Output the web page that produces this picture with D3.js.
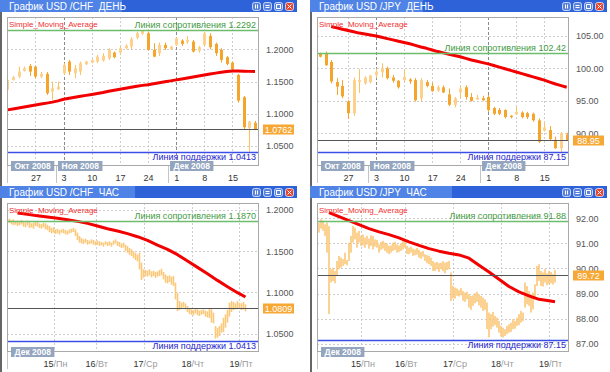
<!DOCTYPE html>
<html>
<head>
<meta charset="utf-8">
<script src="https://cdn.jsdelivr.net/npm/d3@7"></script>
<style>
  html, body { margin: 0; padding: 0; background: #fff; }
  svg { display: block; font-family: "Liberation Sans", Arial, sans-serif; }
</style>
</head>
<body>
<svg id="chart" width="610" height="372"></svg>
<script>
// ---- titles and levels (CHF day, JPY day, CHF hour, JPY hour)
const titles = ["График USD /CHF  ДЕНЬ", "График USD /JPY  ДЕНЬ", "График USD /CHF  ЧАС", "График USD /JPY  ЧАС"];
const resistance = [1.2292, 102.42, 1.1870, 91.88];
const support = [1.0413, 87.15, 1.0413, 87.15];
const lastPrice = [1.0762, 88.95, 1.0809, 89.72];

// ---- daily axis (20 Oct - 19 Dec 2008)
const dayTickIdx = [5, 10, 15, 20, 25, 30, 35, 40];
const dayTickLabels = ["27", "3", "10", "17", "24", "1", "8", "15"];
const dayMonthIdx = [null, 10, 30];
const dayMonthLabels = ["Окт 2008", "Ноя 2008", "Дек 2008"];

// ---- hourly axis (15 - 19 Dec 2008)
const hourDayNum = ["15", "16", "17", "18", "19"];
const hourDayName = ["/Пн", "/Вт", "/Ср", "/Чт", "/Пт"];
const chfHourTickIdx = [23, 44, 68, 92, 116];
const jpyHourTickIdx = [21, 43, 67, 91, 115];
const hourMonthLabels = ["Дек 2008"];

// ---- y ticks
const chfDayTicks = [1.05, 1.10, 1.15, 1.20];
const jpyDayTicks = [90, 95, 100, 105];
const chfHourTicks = [1.05, 1.10, 1.15, 1.20];
const jpyHourTicks = [87, 88, 89, 90, 91, 92];

// ---- USD/CHF daily candles
const chfDayOpen = [1.1370,1.1525,1.1576,1.1664,1.1742,1.1731,1.1576,1.1618,1.1343,1.1380,
  1.1628,1.1809,1.1628,1.1654,1.1768,1.1793,1.1809,1.1824,1.1860,1.1949,
  1.1949,1.2016,1.2041,1.2180,1.2240,1.2248,1.1990,1.1938,1.2067,1.2000,
  1.2067,1.2134,1.2114,1.2119,1.1979,1.2067,1.2207,1.2083,1.1990,1.1876,
  1.1793,1.1602,1.1256,1.0780,1.0860];
const chfDayHigh = [1.1550,1.1586,1.1731,1.1731,1.1773,1.1742,1.1650,1.1648,1.1499,1.1499,
  1.1783,1.1835,1.1757,1.1809,1.1820,1.1845,1.1912,1.1938,1.2016,1.1964,
  1.2041,1.2078,1.2186,1.2270,1.2292,1.2274,1.2093,1.2103,1.2103,1.2052,
  1.2186,1.2155,1.2207,1.2145,1.2052,1.2269,1.2248,1.2103,1.2016,1.1897,
  1.1809,1.1618,1.1276,1.0890,1.0890];
const chfDayLow = [1.1344,1.1514,1.1550,1.1654,1.1586,1.1550,1.1550,1.1292,1.1214,1.1369,
  1.1602,1.1602,1.1550,1.1602,1.1757,1.1783,1.1783,1.1809,1.1835,1.1860,
  1.1928,1.2000,1.1990,1.2155,1.2225,1.1979,1.1876,1.1897,1.1990,1.1990,
  1.2052,1.2052,1.2083,1.1949,1.1949,1.2052,1.2000,1.1897,1.1793,1.1752,
  1.1654,1.1173,1.0760,1.0413,1.0745];
const chfDayClose = [1.1524,1.1566,1.1654,1.1705,1.1654,1.1576,1.1617,1.1318,1.1395,1.1421,
  1.1757,1.1654,1.1705,1.1783,1.1809,1.1835,1.1886,1.1897,1.1990,1.1876,
  1.2016,1.2057,1.2155,1.2250,1.2285,1.1990,1.1886,1.2067,1.2016,1.2041,
  1.2170,1.2083,1.2145,1.1964,1.2031,1.2248,1.2031,1.1938,1.1835,1.1773,
  1.1690,1.1204,1.0791,1.0880,1.0762];
const chfDaySma = [1.1060,1.1075,1.1090,1.1105,1.1120,1.1135,1.1150,1.1165,1.1180,1.1200,
  1.1225,1.1240,1.1255,1.1270,1.1285,1.1300,1.1315,1.1330,1.1350,1.1365,
  1.1380,1.1395,1.1410,1.1425,1.1440,1.1450,1.1465,1.1480,1.1495,1.1510,
  1.1525,1.1540,1.1555,1.1570,1.1585,1.1600,1.1615,1.1630,1.1645,1.1655,
  1.1664,1.1662,1.1660,1.1657,1.1655];

// ---- USD/JPY daily candles
const jpyDayOpen = [102.30,102.30,101.00,97.90,97.30,94.90,93.10,97.90,97.70,97.90,
  99.00,99.40,100.00,98.60,98.10,98.20,98.30,98.20,95.40,97.90,
  97.30,96.60,97.10,96.00,94.40,96.30,97.10,95.60,95.20,95.40,
  95.60,93.90,93.60,93.60,92.70,92.90,93.20,93.10,93.00,92.00,
  90.40,90.50,89.00,87.70,89.80];
const jpyDayHigh = [102.43,102.60,101.30,98.50,98.20,95.10,98.60,99.90,98.80,99.00,
  100.00,100.80,100.30,99.00,98.20,99.80,98.50,98.50,98.50,98.20,
  97.80,97.40,97.40,96.90,95.60,97.30,97.40,96.20,95.90,95.80,
  95.90,94.10,93.90,93.70,92.80,94.10,93.40,93.30,93.20,92.30,
  91.60,91.10,89.50,90.20,90.10];
const jpyDayLow = [101.71,100.40,97.70,95.90,95.40,92.20,92.70,96.20,97.50,97.70,
  98.50,98.60,98.30,97.80,96.90,98.00,97.60,94.90,94.90,97.10,
  96.40,96.40,96.20,94.20,94.00,95.40,95.20,94.90,95.20,95.00,
  93.30,92.80,92.80,92.30,92.30,92.80,92.30,92.20,91.80,88.50,
  90.30,88.90,87.60,87.15,88.90];
const jpyDayClose = [101.80,100.50,98.00,97.20,95.70,93.10,98.20,98.20,98.60,98.90,
  99.50,100.00,98.50,98.10,97.10,98.70,98.00,95.10,98.20,97.30,
  96.50,97.10,96.30,94.40,95.40,96.90,95.60,95.00,95.50,95.10,
  93.60,93.00,93.00,92.50,92.50,93.30,92.50,92.50,92.00,88.70,
  90.90,89.10,87.70,90.00,88.95];
const jpyDaySma = [null,null,106.45,106.25,106.05,105.85,105.65,105.45,105.30,105.15,
  105.00,104.80,104.60,104.40,104.20,104.00,103.80,103.55,103.30,103.10,
  102.85,102.60,102.40,102.20,102.00,101.80,101.55,101.30,101.10,100.90,
  100.70,100.45,100.20,99.95,99.70,99.45,99.20,98.95,98.70,98.45,
  98.20,97.90,97.60,97.35,97.10];

// ---- USD/CHF hourly bars
const chfHourHigh = [1.1887,1.1895,1.1879,1.1887,1.1867,1.1871,1.1854,1.1879,1.1862,1.1846,
  1.1871,1.1854,1.1838,1.1846,1.1862,1.1854,1.1838,1.1830,1.1846,1.1838,
  1.1822,1.1806,1.1782,1.1790,1.1765,1.1773,1.1757,1.1765,1.1773,1.1757,
  1.1749,1.1765,1.1773,1.1782,1.1765,1.1725,1.1684,1.1660,1.1644,1.1652,
  1.1636,1.1628,1.1644,1.1636,1.1620,1.1628,1.1620,1.1612,1.1604,1.1620,
  1.1612,1.1620,1.1604,1.1628,1.1644,1.1620,1.1612,1.1595,1.1604,1.1579,
  1.1563,1.1539,1.1523,1.1498,1.1482,1.1458,1.1482,1.1361,1.1280,1.1272,
  1.1264,1.1280,1.1256,1.1264,1.1248,1.1256,1.1272,1.1288,1.1248,1.1219,
  1.1199,1.1207,1.1191,1.1199,1.1118,1.0997,1.0896,1.0875,1.0884,1.0867,
  1.0835,1.0803,1.0794,1.0786,1.0803,1.0794,1.0778,1.0786,1.0794,1.0778,
  1.0770,1.0803,1.0794,1.0754,1.0592,1.0572,1.0592,1.0625,1.0693,1.0734,
  1.0786,1.0875,1.0896,1.0884,1.0867,1.0896,1.0875,1.0867,1.0884,1.0855];
const chfHourLow = [1.1838,1.1846,1.1826,1.1814,1.1822,1.1806,1.1814,1.1826,1.1798,1.1790,
  1.1814,1.1782,1.1790,1.1773,1.1806,1.1798,1.1782,1.1773,1.1790,1.1765,
  1.1757,1.1733,1.1717,1.1725,1.1709,1.1717,1.1701,1.1725,1.1717,1.1705,
  1.1701,1.1717,1.1725,1.1733,1.1684,1.1636,1.1604,1.1595,1.1587,1.1604,
  1.1579,1.1587,1.1595,1.1579,1.1571,1.1579,1.1563,1.1571,1.1555,1.1579,
  1.1563,1.1571,1.1555,1.1579,1.1595,1.1563,1.1555,1.1539,1.1547,1.1502,
  1.1482,1.1458,1.1442,1.1417,1.1393,1.1377,1.1280,1.1150,1.1179,1.1199,
  1.1191,1.1207,1.1183,1.1199,1.1175,1.1191,1.1199,1.1207,1.1159,1.1118,
  1.1110,1.1126,1.1094,1.1078,1.0916,1.0774,1.0786,1.0803,1.0819,1.0794,
  1.0762,1.0738,1.0730,1.0722,1.0746,1.0722,1.0714,1.0730,1.0738,1.0706,
  1.0697,1.0689,1.0633,1.0625,1.0439,1.0451,1.0471,1.0511,1.0519,1.0572,
  1.0633,1.0706,1.0762,1.0786,1.0794,1.0803,1.0811,1.0786,1.0794,1.0770];
const chfHourSmaIdx = [5,10,15,20,25,30,35,40,45,50,55,60,65,70,75,80,85,90,95,100,105,110,115,119];
const chfHourSma = [1.1964,1.1947,1.1931,1.1915,1.1899,1.1883,1.1862,1.1838,1.1806,1.1773,1.1745,1.1713,
  1.1676,1.1632,1.1575,1.1523,1.1458,1.1381,1.1304,1.1227,1.1146,1.1070,1.0997,1.0944];

// ---- USD/JPY hourly bars
const jpyHourHigh = [91.83,91.96,91.91,91.76,91.83,91.69,89.97,90.03,89.90,90.30,
  90.50,90.43,90.37,90.63,90.34,91.03,91.30,91.69,91.63,91.43,
  91.50,91.30,91.36,91.23,91.30,91.19,91.32,91.30,91.16,91.14,
  90.96,91.06,91.10,91.03,91.00,90.90,90.92,91.03,91.06,90.96,
  90.92,91.00,91.10,91.16,90.90,90.83,90.87,90.79,90.76,90.82,
  90.74,90.66,90.70,90.57,90.53,90.50,90.43,90.30,90.23,90.26,
  90.21,90.23,90.29,90.23,90.26,90.30,89.84,89.30,89.24,89.20,
  89.14,89.22,89.10,89.04,89.07,88.97,88.91,88.93,89.01,89.07,
  88.97,88.91,88.84,88.77,88.64,88.24,88.18,88.27,88.11,88.04,
  87.91,87.71,87.64,87.58,87.71,87.78,87.84,87.98,87.91,88.04,
  88.18,88.31,88.24,89.44,89.30,89.10,88.97,89.04,89.37,90.10,
  90.17,89.90,89.84,89.97,89.81,89.90,89.86,89.77,89.94];
const jpyHourLow = [91.43,91.59,91.50,91.30,90.63,88.18,89.44,89.50,89.41,89.70,
  89.97,90.03,90.10,90.17,90.13,90.30,90.63,91.03,91.16,90.83,
  91.03,90.90,90.92,90.83,90.96,90.79,90.90,90.76,90.87,90.83,
  90.63,90.74,90.79,90.70,90.63,90.57,90.63,90.70,90.74,90.63,
  90.66,90.70,90.76,90.83,90.57,90.57,90.63,90.50,90.53,90.55,
  90.43,90.39,90.47,90.30,90.21,90.17,90.10,89.90,89.90,89.97,
  89.86,89.97,89.89,89.81,89.94,89.97,88.71,88.80,88.80,88.91,
  88.88,88.93,88.71,88.67,88.77,88.44,88.35,88.51,88.61,88.67,
  88.53,88.44,88.31,88.35,87.58,87.25,87.58,87.68,87.74,87.64,
  87.44,87.29,87.25,87.31,87.38,87.44,87.47,87.58,87.60,87.71,
  87.74,87.84,87.91,88.44,88.57,88.51,88.24,88.37,88.77,89.30,
  89.50,89.30,89.28,89.44,89.33,89.37,89.41,89.36,89.44];
const jpyHourSmaIdx = [5,10,15,20,25,30,35,40,45,50,55,60,65,70,75,80,85,90,95,100,105,110,115,118];
const jpyHourSma = [92.23,92.07,91.91,91.75,91.59,91.46,91.35,91.22,91.06,90.92,90.79,90.69,
  90.61,90.54,90.41,90.13,89.86,89.57,89.28,89.07,88.91,88.77,88.71,88.67];

// ---- layout
const PW = 297, PH = 186;
const plotW = 252, plotTop = 17, plotBottom = 166;
const FONT = '"Liberation Sans", Arial, sans-serif';
const upColor = "#fdd18c", downColor = "#f5a52c", barColor = "#fbc877";

const svg = d3.select("#chart");

function windowFrame(g, p) {
  g.append("rect").attr("width", PW).attr("height", PH).attr("fill", "#fff");
  g.append("rect").attr("y", 12).attr("width", 2).attr("height", PH - 12).attr("fill", "#666");
  g.append("rect").attr("width", PW).attr("height", 12).attr("fill", "#2d62d8");
  g.append("rect").attr("width", p.titleW).attr("height", 12).attr("fill", "#4f83e6");
  g.append("text").attr("x", 9).attr("y", 9.8)
    .attr("fill", "#fff").attr("font-size", 10).style("white-space", "pre")
    .text(p.title);

  // window buttons
  ["pause", "min", "max", "close"].forEach((b, k) => {
    const bx = PW - 45 + k * 11, by = 2;
    g.append("rect").attr("x", bx + 0.5).attr("y", by + 0.5).attr("width", 8).attr("height", 8).attr("rx", 2)
      .attr("fill", b === "close" ? "#e4462f" : "#5a84dc").attr("stroke", "#e8eefb").attr("stroke-width", 0.8);
    const ic = g.append("g").attr("stroke", "#fff").attr("stroke-width", 1).attr("fill", "none");
    if (b === "pause") {
      ic.append("line").attr("x1", bx + 3.5).attr("x2", bx + 3.5).attr("y1", by + 2.5).attr("y2", by + 6.5);
      ic.append("line").attr("x1", bx + 5.5).attr("x2", bx + 5.5).attr("y1", by + 2.5).attr("y2", by + 6.5);
    } else if (b === "min") {
      ic.append("line").attr("x1", bx + 2.5).attr("x2", bx + 6.5).attr("y1", by + 3.5).attr("y2", by + 3.5);
      ic.append("line").attr("x1", bx + 2.5).attr("x2", bx + 6.5).attr("y1", by + 5.5).attr("y2", by + 5.5);
    } else if (b === "max") {
      ic.append("rect").attr("x", bx + 2.5).attr("y", by + 2.5).attr("width", 4).attr("height", 4);
    } else {
      ic.append("path").attr("d", `M${bx + 2.5},${by + 2.5}L${bx + 6.5},${by + 6.5}M${bx + 6.5},${by + 2.5}L${bx + 2.5},${by + 6.5}`);
    }
  });
}

function drawPanel(p, k) {
  const g = svg.append("g").attr("transform", `translate(${p.x0},${p.y0})`)
    .attr("font-family", FONT);
  windowFrame(g, p);

  const L = p.plotLeft, R = L + plotW;
  const x = d3.scaleLinear().domain(p.xDomain).range(p.xRange);
  const y = d3.scaleLinear().domain(p.yDomain).range([plotBottom, plotTop]);
  const fmt = d3.format(p.yFormat);
  const px = v => Math.round(v) + 0.5;

  // grid
  g.append("g").selectAll("line").data(p.yTicks).join("line")
    .attr("x1", L).attr("x2", R).attr("y1", d => px(y(d))).attr("y2", d => px(y(d)))
    .attr("stroke", "#cdcdcd").attr("stroke-dasharray", "2,2");
  g.append("g").selectAll("line").data(p.xTicks).join("line")
    .attr("x1", d => px(x(d))).attr("x2", d => px(x(d)))
    .attr("y1", plotTop).attr("y2", plotBottom)
    .attr("stroke", d => p.monthIdx.includes(d) ? "#8a8a8a" : "#cdcdcd")
    .attr("stroke-dasharray", d => p.monthIdx.includes(d) ? "3,2" : "2,2");

  const clipId = "clip" + k;
  g.append("clipPath").attr("id", clipId).append("rect")
    .attr("x", L).attr("y", plotTop).attr("width", plotW).attr("height", plotBottom - plotTop);
  const marks = g.append("g").attr("clip-path", `url(#${clipId})`);

  if (p.open) {
    const candles = p.open.map((o, i) => ({ i, o, h: p.high[i], l: p.low[i], c: p.close[i] }));
    marks.append("g").selectAll("line").data(candles).join("line")
      .attr("x1", d => px(x(d.i))).attr("x2", d => px(x(d.i)))
      .attr("y1", d => y(d.h)).attr("y2", d => y(d.l))
      .attr("stroke", d => d.c >= d.o ? "#fbc260" : downColor).attr("stroke-width", 1);
    marks.append("g").selectAll("rect").data(candles).join("rect")
      .attr("x", d => Math.round(x(d.i)) - 1).attr("width", 3)
      .attr("y", d => y(Math.max(d.o, d.c)))
      .attr("height", d => Math.max(1, Math.abs(y(d.o) - y(d.c))))
      .attr("fill", d => d.c >= d.o ? upColor : downColor);
  } else {
    const bars = p.high.map((h, i) => ({ i, h, l: p.low[i] }));
    marks.append("g").selectAll("rect").data(bars).join("rect")
      .attr("x", d => x(d.i) - 0.8).attr("width", 1.6)
      .attr("y", d => y(d.h)).attr("height", d => Math.max(1, y(d.l) - y(d.h)))
      .attr("fill", barColor);
  }

  // moving average
  const line = d3.line().defined(d => d.v != null).x(d => x(d.i)).y(d => y(d.v));
  marks.append("path").datum(p.sma)
    .attr("d", line).attr("fill", "none").attr("stroke", "#f20000").attr("stroke-width", 3)
    .attr("stroke-linejoin", "round");

  // levels
  const yRes = px(y(p.res)), ySup = px(y(p.sup)), yLast = px(y(p.last));
  g.append("line").attr("x1", L).attr("x2", R).attr("y1", yLast).attr("y2", yLast)
    .attr("stroke", "#555").attr("stroke-width", 1);
  g.append("line").attr("x1", L).attr("x2", R).attr("y1", yRes).attr("y2", yRes)
    .attr("stroke", "#6cbd6c").attr("stroke-width", 1.5);
  g.append("line").attr("x1", L).attr("x2", R).attr("y1", ySup).attr("y2", ySup)
    .attr("stroke", "#3b4fe6").attr("stroke-width", 1.5);

  // plot frame
  g.append("rect").attr("x", L + 0.5).attr("y", plotTop + 0.5)
    .attr("width", plotW - 1).attr("height", plotBottom - plotTop - 1)
    .attr("fill", "none").attr("stroke", "#a9a9a9");

  // labels in plot
  g.append("text").attr("x", L + 2).attr("y", plotTop + 9.5)
    .attr("fill", "#f03030").attr("font-size", 8).text("Simple_Moving_Average");
  g.append("text").attr("x", R - 3).attr("y", yRes - 2.5).attr("text-anchor", "end")
    .attr("fill", "#3f9a3f").attr("font-size", 9).text("Линия сопротивления " + fmt(p.res));
  g.append("text").attr("x", R - 3).attr("y", ySup + 7.5).attr("text-anchor", "end")
    .attr("fill", "#2626cc").attr("font-size", 9).text("Линия поддержки " + fmt(p.sup));

  // y axis labels
  const yAxis = d3.axisRight(y).tickValues(p.yTicks).tickFormat(fmt).tickSize(0).tickPadding(0);
  g.append("g").attr("transform", `translate(${R + 7},0)`).call(yAxis)
    .attr("font-family", FONT).attr("font-size", 9)
    .call(a => a.select(".domain").remove())
    .selectAll("text").attr("fill", "#555");

  // last price box
  g.append("rect").attr("x", R + 4).attr("y", yLast - 5).attr("width", 31).attr("height", 10)
    .attr("fill", "#f7a733");
  g.append("text").attr("x", R + 19.5).attr("y", yLast + 3.2).attr("text-anchor", "middle")
    .attr("fill", "#fff").attr("font-size", 9).text(fmt(p.last));

  // x axis: month boxes
  const mb = g.append("g");
  p.monthLabels.forEach((m, j) => {
    const idx = p.monthBoxIdx[j];
    const bx = idx == null ? L + 4 : Math.round(x(idx)) - 6;
    if (idx != null) {
      mb.append("line").attr("x1", bx - 1.5).attr("x2", bx - 1.5).attr("y1", plotBottom).attr("y2", 183)
        .attr("stroke", "#c4c4c4");
    }
    const t = mb.append("text").attr("y", 169.2).attr("fill", "#fff").attr("font-size", 8.5)
      .attr("font-weight", "bold").text(m);
    const tw = t.node().getComputedTextLength();
    mb.insert("rect", "text").attr("x", bx).attr("y", 161).attr("width", tw + 7).attr("height", 10)
      .attr("fill", "#93a5bf");
    t.attr("x", bx + 3.5);
  });
  g.append("line").attr("x1", L + 0.5).attr("x2", L + 0.5).attr("y1", plotBottom).attr("y2", 183)
    .attr("stroke", "#c4c4c4");

  // x axis: tick labels
  if (p.xTickLabels) {
    const xAxis = d3.axisBottom(x).tickValues(p.xTicks)
      .tickFormat((d, i) => p.xTickLabels[i]).tickSize(0).tickPadding(0);
    g.append("g").attr("transform", `translate(0,175)`).call(xAxis)
      .attr("font-family", FONT).attr("font-size", 9)
      .call(a => a.select(".domain").remove())
      .selectAll("text").attr("fill", "#333");
  } else {
    const lab = g.append("g").attr("font-size", 9);
    p.xTicks.forEach((d, j) => {
      lab.append("text").attr("x", x(d)).attr("y", 180.5).attr("text-anchor", "end")
        .attr("fill", "#333").text(p.dayNum[j]);
      lab.append("text").attr("x", x(d)).attr("y", 180.5).attr("fill", "#9a9a9a").text(p.dayName[j]);
    });
  }
}

const smaPoints = (idx, vals) => idx.map((i, j) => ({ i, v: vals[j] }));
const dailySma = vals => vals.map((v, i) => ({ i, v }));

const panels = [
  { x0: 0, y0: 0, title: titles[0], titleW: 122, plotLeft: 7,
    xDomain: [0, 44], xRange: [7.3, 255],
    yDomain: [1.019, 1.25], yTicks: chfDayTicks, yFormat: ".4f",
    open: chfDayOpen, high: chfDayHigh, low: chfDayLow, close: chfDayClose,
    sma: dailySma(chfDaySma), res: resistance[0], sup: support[0], last: lastPrice[0],
    xTicks: dayTickIdx, xTickLabels: dayTickLabels, monthIdx: [10, 30],
    monthBoxIdx: dayMonthIdx, monthLabels: dayMonthLabels },
  { x0: 310, y0: 0, title: titles[1], titleW: 113, plotLeft: 7,
    xDomain: [0, 44], xRange: [10, 256.7],
    yDomain: [84.96, 107.93], yTicks: jpyDayTicks, yFormat: ".2f",
    open: jpyDayOpen, high: jpyDayHigh, low: jpyDayLow, close: jpyDayClose,
    sma: dailySma(jpyDaySma), res: resistance[1], sup: support[1], last: lastPrice[1],
    xTicks: dayTickIdx, xTickLabels: dayTickLabels, monthIdx: [10, 30],
    monthBoxIdx: dayMonthIdx, monthLabels: dayMonthLabels },
  { x0: 0, y0: 186, title: titles[2], titleW: 135, plotLeft: 7,
    xDomain: [0, 119], xRange: [7.5, 245.5],
    yDomain: [1.0277, 1.2085], yTicks: chfHourTicks, yFormat: ".4f",
    high: chfHourHigh, low: chfHourLow,
    sma: smaPoints(chfHourSmaIdx, chfHourSma), res: resistance[2], sup: support[2], last: lastPrice[2],
    xTicks: chfHourTickIdx, dayNum: hourDayNum, dayName: hourDayName, monthIdx: [],
    monthBoxIdx: [null], monthLabels: hourMonthLabels },
  { x0: 310, y0: 186, title: titles[3], titleW: 142, plotLeft: 7,
    xDomain: [0, 118], xRange: [9, 245],
    yDomain: [86.67, 92.61], yTicks: jpyHourTicks, yFormat: ".2f",
    high: jpyHourHigh, low: jpyHourLow,
    sma: smaPoints(jpyHourSmaIdx, jpyHourSma), res: resistance[3], sup: support[3], last: lastPrice[3],
    xTicks: jpyHourTickIdx, dayNum: hourDayNum, dayName: hourDayName, monthIdx: [],
    monthBoxIdx: [null], monthLabels: hourMonthLabels }
];

panels.forEach(drawPanel);
</script>
</body>
</html>
